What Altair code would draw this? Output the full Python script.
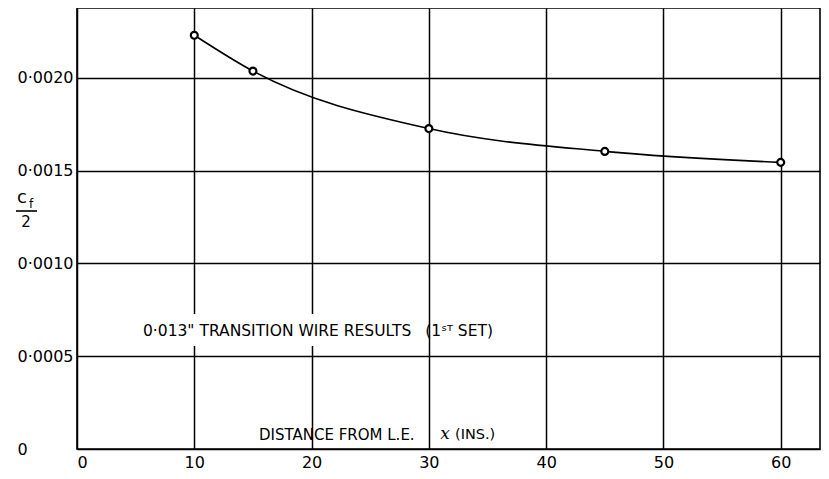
import altair as alt
import pandas as pd

# data
x_in = [10, 15, 30, 45, 60]
cf_half = [0.00223, 0.002037, 0.001727, 0.001604, 0.001545]
x_ticks = [0, 10, 20, 30, 40, 50, 60]
y_ticks = [0, 0.0005, 0.0010, 0.0015, 0.0020]

df = pd.DataFrame({"x": x_in, "cf": cf_half})

FONT = "DejaVu Sans"
W, H = 743, 441

xscale = alt.Scale(domain=[0, 63.35], nice=False, zero=False)
yscale = alt.Scale(domain=[0, 0.002377], nice=False, zero=False)

xaxis = alt.Axis(values=x_ticks, grid=True, gridColor="black", gridWidth=1.5,
                 gridOpacity=1, ticks=False, domain=False, title=None,
                 labelFont=FONT, labelFontSize=16, labelColor="black",
                 labelBaseline="alphabetic", labelPadding=18)
yaxis = alt.Axis(values=y_ticks, grid=True, gridColor="black", gridWidth=1.5,
                 gridOpacity=1, ticks=False, domain=False, title=None,
                 labelFont=FONT, labelFontSize=16, labelColor="black",
                 labelAlign="left", labelBaseline="middle", labelPadding=60,
                 labelExpr="datum.value == 0 ? '0' : replace(format(datum.value, '.4f'), '.', '·')")

base = alt.Chart(df)

line = base.mark_line(color="black", strokeWidth=1.6, interpolate="monotone").encode(
    x=alt.X("x:Q", scale=xscale, axis=xaxis),
    y=alt.Y("cf:Q", scale=yscale, axis=yaxis),
)
pts = base.mark_point(shape="circle", size=48, filled=True, fill="white",
                      stroke="black", strokeWidth=2.2, opacity=1).encode(
    x=alt.X("x:Q", scale=xscale),
    y=alt.Y("cf:Q", scale=yscale),
)

ann = alt.Chart(pd.DataFrame({"a": [0]}))

# white patch behind annotation text (breaks gridlines like the original)
patch = ann.mark_rect(color="white").encode(
    x=alt.value(61), x2=alt.value(336), y=alt.value(306), y2=alt.value(338)
)
txt1a = ann.mark_text(text='0·013"  TRANSITION WIRE RESULTS', font=FONT,
                      fontSize=15.5, align="left", baseline="middle", color="black").encode(
    x=alt.value(66), y=alt.value(323)
)
txt1b = ann.mark_text(text='(1ˢᵀ SET)', font=FONT,
                      fontSize=15.5, align="right", baseline="middle", color="black").encode(
    x=alt.value(416), y=alt.value(323)
)
txt2 = ann.mark_text(text="DISTANCE FROM L.E.", font=FONT, fontSize=15,
                     align="left", baseline="middle", color="black").encode(
    x=alt.value(182), y=alt.value(427)
)
txt2x = ann.mark_text(text="x", font="DejaVu Serif", fontStyle="italic", fontSize=17,
                      align="center", baseline="middle", color="black").encode(
    x=alt.value(368), y=alt.value(426)
)
txt2b = ann.mark_text(text="(INS.)", font=FONT, fontSize=14.5,
                      align="left", baseline="middle", color="black").encode(
    x=alt.value(378), y=alt.value(427)
)

# y title: c_f / 2
cf_c = ann.mark_text(text="c", font=FONT, fontSize=18, align="center",
                     baseline="middle", color="black").encode(x=alt.value(-55), y=alt.value(190))
cf_f = ann.mark_text(text="f", font=FONT, fontSize=12, align="center",
                     baseline="middle", color="black").encode(x=alt.value(-46), y=alt.value(196))
frac = ann.mark_rule(color="black", strokeWidth=1.6).encode(
    x=alt.value(-61), x2=alt.value(-40), y=alt.value(203)
)
two = ann.mark_text(text="2", font=FONT, fontSize=15, align="center",
                    baseline="middle", color="black").encode(x=alt.value(-51), y=alt.value(214))

chart = alt.layer(line, pts, patch, txt1a, txt1b, txt2, txt2x, txt2b, cf_c, cf_f, frac, two).properties(
    width=W, height=H,
    autosize=alt.AutoSizeParams(type="none"),
    padding={"left": 69, "top": 0, "right": 1, "bottom": 22},
    background="white",
).configure_view(stroke="black", strokeWidth=1.6)

chart.save("out.html", embed_options={"renderer": "svg", "actions": False})
